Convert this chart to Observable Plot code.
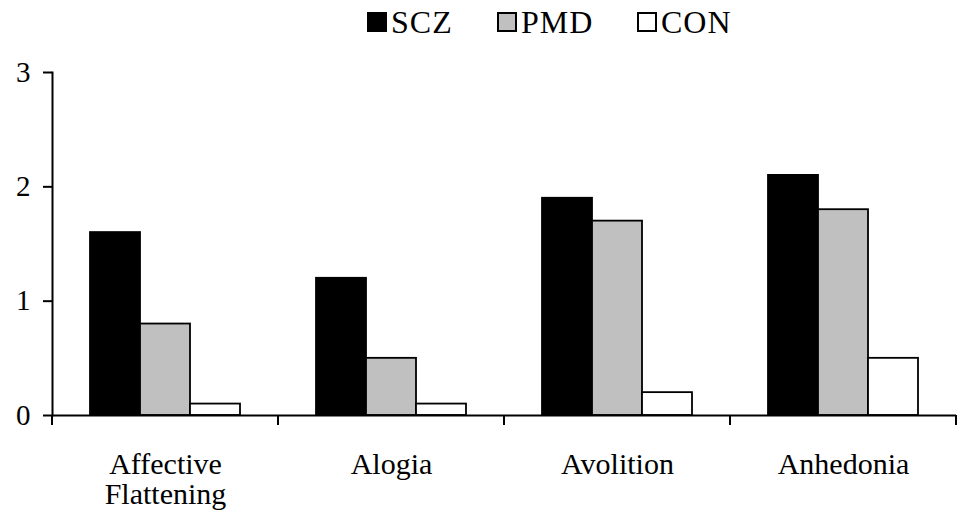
<!DOCTYPE html>
<html>
<head>
<meta charset="utf-8">
<script src="https://cdn.jsdelivr.net/npm/d3@7"></script>
<script src="https://cdn.jsdelivr.net/npm/@observablehq/plot@0.6"></script>
<style>
  html, body { margin: 0; padding: 0; background: #fff; }
  #wrap { width: 957px; height: 519px; position: relative; font-family: "Liberation Serif", "Times New Roman", serif; }
  #legend { height: 40px; position: relative; }
  #legend .item { position: absolute; top: 7px; display: flex; align-items: center; font-size: 32px; line-height: 30px; letter-spacing: 1px; color: #000; }
  #legend .sw { width: 20px; height: 20px; border: 2px solid #000; margin-right: 4px; box-sizing: border-box; }
</style>
</head>
<body>
<div id="wrap">
  <div id="legend"></div>
  <div id="chart"></div>
</div>
<script>
const categories = ["Affective Flattening", "Alogia", "Avolition", "Anhedonia"];
const groups = ["SCZ", "PMD", "CON"];
const colors = ["#000000", "#c0c0c0", "#ffffff"];
const SCZ = [1.6, 1.2, 1.9, 2.1];
const PMD = [0.8, 0.5, 1.7, 1.8];
const CON = [0.1, 0.1, 0.2, 0.5];
const yTicks = [0, 1, 2, 3];

const series = {SCZ, PMD, CON};
const data = [];
categories.forEach((c, i) => groups.forEach(g => data.push({category: c, group: g, value: series[g][i]})));

// legend
const legendLeft = [367, 497, 637];
const legend = d3.select("#legend");
groups.forEach((g, i) => {
  const it = legend.append("div").attr("class", "item").style("left", legendLeft[i] + "px");
  it.append("div").attr("class", "sw").style("background", colors[i]);
  it.append("span").text(g);
});

const H = 479;
const chart = Plot.plot({
  width: 957,
  height: H,
  marginLeft: 50,
  marginRight: 0,
  marginTop: 32,
  marginBottom: 104,
  style: {fontFamily: "Liberation Serif, Times New Roman, serif", fontSize: "28px", color: "#000", background: "#fff"},
  fx: {domain: categories, padding: 0, axis: null},
  x: {domain: groups, paddingInner: 0, paddingOuter: 0.74, axis: null},
  y: {domain: [0, 3], axis: null},
  color: {domain: groups, range: colors},
  marks: [
    Plot.barY(data, {fx: "category", x: "group", y: "value", fill: "group", stroke: "#000", strokeWidth: 1.8}),
    Plot.ruleY([0], {stroke: "#000", strokeWidth: 2}),
    Plot.frame({anchor: "left", facetAnchor: "left", stroke: "#000", strokeWidth: 2}),
    Plot.axisY({ticks: yTicks, tickSize: 9, tickPadding: 13, strokeWidth: 2, label: null, tickFormat: d => String(d), fontSize: 29}),
    Plot.axisFx({anchor: "bottom", tickSize: 0, tickPadding: 37, label: null, fontSize: 30, lineHeight: 1,
      tickFormat: d => d === "Affective Flattening" ? "Affective\nFlattening" : d})
  ]
});
document.getElementById("chart").appendChild(chart);

// boundary ticks on the category axis, positioned with Plot's fx and y scales
const fx = chart.scale("fx");
const ys = chart.scale("y");
const y0 = ys.apply(0);
const bounds = categories.map(c => fx.apply(c));
bounds.push(fx.apply(categories[categories.length - 1]) + fx.bandwidth);
const g = d3.select(chart).append("g").attr("stroke", "#000").attr("stroke-width", 2);
bounds.forEach(b => {
  const xx = Math.min(b, 956);
  g.append("line").attr("x1", xx).attr("x2", xx).attr("y1", y0).attr("y2", y0 + 10);
});
</script>
</body>
</html>
